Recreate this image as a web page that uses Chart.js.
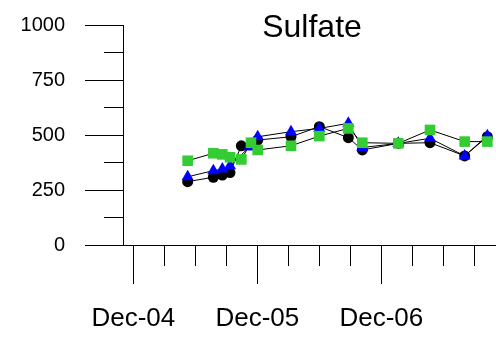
<!DOCTYPE html>
<html>
<head>
<meta charset="utf-8">
<script src="https://cdn.jsdelivr.net/npm/chart.js@4.4.0/dist/chart.umd.min.js"></script>
<style>
  html, body { margin: 0; padding: 0; background: #fff; }
  #wrap { width: 496px; height: 337px; }
</style>
</head>
<body>
<div id="wrap"><canvas id="sulfate" width="496" height="337"></canvas></div>
<script>
const chartTitle = "Sulfate";

// sample dates and concentrations, one set per site
const blackDates  = ["2005-05-09", "2005-07-24", "2005-08-20", "2005-09-12", "2005-10-15", "2005-12-02",
                     "2006-03-09", "2006-06-01", "2006-08-26", "2006-10-06", "2007-01-21", "2007-04-23",
                     "2007-08-03", "2007-10-09"];
const blackValues = [288, 308, 318, 329, 451, 477, 492, 538, 488, 432, 462, 465, 405, 492];

const blueDates  = ["2005-05-09", "2005-07-24", "2005-08-20", "2005-09-12", "2005-11-08", "2005-12-02",
                    "2006-03-09", "2006-06-01", "2006-08-26", "2006-10-06", "2007-01-21", "2007-04-23",
                    "2007-08-03", "2007-10-09"];
const blueValues = [310, 338, 345, 360, 445, 492, 515, 530, 553, 443, 462, 485, 405, 497];

const greenDates  = ["2005-05-09", "2005-07-24", "2005-08-20", "2005-09-12", "2005-10-15", "2005-11-13",
                     "2005-12-02", "2006-03-09", "2006-06-01", "2006-08-26", "2006-10-06", "2007-01-21",
                     "2007-04-23", "2007-08-03", "2007-10-09"];
const greenValues = [383, 417, 412, 399, 389, 465, 432, 451, 495, 530, 465, 462, 523, 470, 470];

const yearTickDates  = ["2004-12-01", "2005-12-01", "2006-12-01"];
const yearTickLabels = ["Dec-04", "Dec-05", "Dec-06"];
const yTickLabels    = [0, 250, 500, 750, 1000];

function decimalYear(s) {
  const [y, m, d] = s.split("-").map(Number);
  return y + (m - 1 + (d - 1) / 31) / 12;
}

function toPoints(dates, values) {
  return dates.map((d, i) => ({ x: decimalYear(d), y: values[i] }));
}

const yearTickValues = yearTickDates.map(decimalYear);
// quarterly tick marks from Dec-04 onward
const quarterTicks = [];
for (let q = 0; q < 12; q++) quarterTicks.push(yearTickValues[0] + q / 4);

function isYearTick(v) {
  return yearTickValues.findIndex(t => Math.abs(t - v) < 0.001);
}

const titlePlugin = {
  id: "plotTitle",
  afterDraw(chart) {
    const { ctx, chartArea } = chart;
    ctx.save();
    ctx.font = "32px 'Liberation Sans', Arial, sans-serif";
    ctx.fillStyle = "#000";
    ctx.textAlign = "center";
    ctx.textBaseline = "alphabetic";
    ctx.fillText(chartTitle, (chartArea.left + chartArea.right) / 2 + 3, 37);
    ctx.restore();
  }
};

const datos = {
  datasets: [
    {
      label: "green",
      data: toPoints(greenDates, greenValues),
      borderColor: "#000",
      borderWidth: 1,
      pointStyle: "rect",
      pointRadius: 7.5,
      pointBackgroundColor: "#33CC33",
      pointBorderColor: "#33CC33",
      pointBorderWidth: 0
    },
    {
      label: "blue",
      data: toPoints(blueDates, blueValues),
      borderColor: "#000",
      borderWidth: 1,
      pointStyle: "triangle",
      pointRadius: 7,
      pointBackgroundColor: "#0000FF",
      pointBorderColor: "#0000FF",
      pointBorderWidth: 0
    },
    {
      label: "black",
      data: toPoints(blackDates, blackValues),
      borderColor: "#000",
      borderWidth: 1,
      pointStyle: "circle",
      pointRadius: 5.5,
      pointBackgroundColor: "#000",
      pointBorderColor: "#000",
      pointBorderWidth: 0
    }
  ]
};

const config = {
  type: "line",
  data: datos,
  options: {
    responsive: false,
    maintainAspectRatio: false,
    animation: false,
    clip: false,
    layout: { autoPadding: false, padding: { top: 25, right: 1, left: 0, bottom: 0 } },
    plugins: {
      legend: { display: false },
      tooltip: { enabled: false }
    },
    scales: {
      x: {
        type: "linear",
        min: decimalYear("2004-11-01"),
        max: decimalYear("2007-11-01"),
        afterBuildTicks: s => { s.ticks = quarterTicks.map(v => ({ value: v })); },
        afterFit: s => { s.height = 92; },
        grid: {
          drawOnChartArea: false,
          tickLength: 39,
          tickColor: "#000",
          tickWidth: 1,
          tickBorderDash: c => isYearTick(c.tick.value) >= 0 ? [] : [20, 200]
        },
        border: { color: "#000", width: 1 },
        ticks: {
          autoSkip: false,
          maxRotation: 0,
          padding: 19,
          color: "#000",
          font: { family: "'Liberation Sans', Arial, sans-serif", size: 26 },
          callback: v => {
            const i = isYearTick(v);
            return i >= 0 ? yearTickLabels[i] : "";
          }
        }
      },
      y: {
        min: 0,
        max: 1000,
        afterFit: s => { s.width = 123; s.paddingTop = 0; s.paddingBottom = 0; },
        grid: {
          drawOnChartArea: false,
          tickLength: 38,
          tickColor: "#000",
          tickWidth: 1,
          tickBorderDash: c => yTickLabels.includes(c.tick.value) ? [] : [0, 19, 19, 200]
        },
        border: { color: "#000", width: 1 },
        ticks: {
          stepSize: 125,
          padding: 20,
          color: "#000",
          font: { family: "'Liberation Sans', Arial, sans-serif", size: 20 },
          callback: v => yTickLabels.includes(v) ? String(v) : ""
        }
      }
    }
  },
  plugins: [titlePlugin]
};

const ctx = document.getElementById("sulfate").getContext("2d");
new Chart(ctx, config);
</script>
</body>
</html>
